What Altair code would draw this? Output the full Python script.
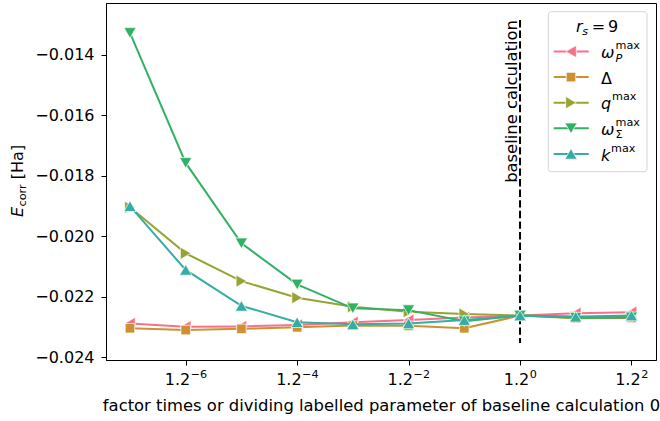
import altair as alt
import pandas as pd

# ---------------- data ----------------
exponents = [-7, -6, -5, -4, -3, -2, -1, 0, 1, 2]          # factor = 1.2**exponent
omega_P = [-0.02288, -0.02299, -0.02298, -0.02293, -0.02284, -0.02277, -0.02268, -0.02262, -0.02254, -0.02251]
delta = [-0.02304, -0.02310, -0.02306, -0.02301, -0.02295, -0.02296, -0.02304, -0.02262, -0.02271, -0.02270]
q_max = [-0.01904, -0.02056, -0.02148, -0.02203, -0.02233, -0.02249, -0.02257, -0.02262, -0.02266, -0.02265]
omega_S = [-0.01327, -0.01757, -0.02023, -0.02159, -0.02238, -0.02244, -0.02281, -0.02262, -0.02269, -0.02268]
k_max = [-0.01900, -0.02111, -0.02230, -0.02284, -0.02291, -0.02288, -0.02277, -0.02262, -0.02266, -0.02262]

series_names = ["omega_P", "Delta", "q", "omega_Sigma", "k"]
series_values = [omega_P, delta, q_max, omega_S, k_max]

x_tick_exponents = [-6, -4, -2, 0, 2]
x_tick_base = "1.2"
x_tick_sup = ["\u22126", "\u22124", "\u22122", "0", "2"]
y_ticks = [-0.024, -0.022, -0.020, -0.018, -0.016, -0.014]

baseline_factor = [1.0]
baseline_span = [-0.012842, -0.023527]
baseline_text = "baseline calculation"
x_title = "factor times or dividing labelled parameter of baseline calculation 0"

legend_main = ["\u03c9", "\u0394", "q", "\u03c9", "k"]
legend_sup = ["max", "", "max", "max", "max"]
legend_sub = ["P", "", "", "\u03a3", ""]

# ---------------- styles ----------------
colors = ["#f77189", "#ce9032", "#97a431", "#32b166", "#36ada4"]
shapes = ["triangle-left", "square", "triangle-right", "triangle-down", "triangle-up"]
sizes = [150, 90, 150, 150, 150]
main_italic = [True, False, True, True, True]
sub_italic = [True, False, False, False, False]
sup_x = [615.5, 0, 612.0, 615.5, 611.0]

OX, OY = 106, 3
W, H = 550, 357
FONT = "DejaVu Sans"
FS = 16
SFS = 11.2

rows = []
for name, vals in zip(series_names, series_values):
    for e, v in zip(exponents, vals):
        rows.append({"series": name, "factor": 1.2 ** e, "E": v})
df = pd.DataFrame(rows)

x_dom = [1.2 ** -7.43, 1.2 ** 2.44]
y_dom = [-0.02409, -0.01228]

axis_common = dict(grid=False, domainColor="black", tickColor="black", labelColor="black",
                   titleColor="black", labelFont=FONT, titleFont=FONT, labelFontSize=FS,
                   tickSize=5, tickWidth=1, domainWidth=1)

x_enc = alt.X(
    "factor:Q",
    scale=alt.Scale(type="log", base=1.2, domain=x_dom, nice=False),
    axis=alt.Axis(values=[1.2 ** e for e in x_tick_exponents], labels=False,
                  title=x_title, titleFontSize=16.4, titleFontWeight="normal",
                  titlePadding=32, **axis_common),
)
y_enc = alt.Y(
    "E:Q",
    scale=alt.Scale(domain=y_dom, nice=False, zero=False),
    axis=alt.Axis(values=y_ticks, labelExpr="replace(format(datum.value, '.3f'), '-', '\u2212')",
                  title=None, labelPadding=7, **axis_common),
)

layers = []

# dashed baseline rule + text
bdf = pd.DataFrame({"factor": baseline_factor, "E": [baseline_span[0]], "E2": [baseline_span[1]]})
layers.append(
    alt.Chart(bdf).mark_rule(color="black", strokeWidth=2, strokeDash=[7.4, 3.2]).encode(
        x=x_enc, y=y_enc, y2=alt.Y2("E2:Q"))
)
layers.append(
    alt.Chart(bdf).mark_text(text=baseline_text, angle=270, align="right", baseline="alphabetic",
                             dy=-3, fontSize=16.4, font=FONT, color="black").encode(x=x_enc, y=y_enc)
)

# data series
for name, col, shp, sz in zip(series_names, colors, shapes, sizes):
    base = alt.Chart(df).transform_filter(alt.datum.series == name)
    layers.append(base.mark_line(color=col, strokeWidth=2).encode(x=x_enc, y=y_enc))
    layers.append(base.mark_point(shape=shp, filled=True, fill=col, stroke="white", strokeWidth=0.7,
                                  size=sz, opacity=1).encode(x=x_enc, y=y_enc))

# x tick labels 1.2^e with real superscripts, positioned through the x scale
ADV = {"1": 0.636, "2": 0.636, "4": 0.636, "6": 0.636, "0": 0.636, ".": 0.318, "\u2212": 0.838}
base_w = sum(ADV[ch] for ch in x_tick_base) * FS
for e, sup in zip(x_tick_exponents, x_tick_sup):
    sup_w = sum(ADV[ch] for ch in sup) * SFS
    off = (base_w + sup_w) / 2 - sup_w
    tdf = pd.DataFrame({"factor": [1.2 ** e]})
    layers.append(alt.Chart(tdf).mark_text(text=x_tick_base, align="right", baseline="alphabetic",
                                           dx=off, fontSize=FS, font=FONT, color="black").encode(
        x=x_enc, y=alt.value(385 - OY)))
    layers.append(alt.Chart(tdf).mark_text(text=sup, align="left", baseline="alphabetic",
                                           dx=off + 0.5, fontSize=SFS, font=FONT, color="black").encode(
        x=x_enc, y=alt.value(377.5 - OY)))

one = pd.DataFrame({"d": [0]})


def txt(xa, ya, s, size=FS, italic=False, angle=0, align="left"):
    props = dict(text=s, fontSize=size, angle=angle, align=align, baseline="alphabetic",
                 color="black", font=FONT)
    if italic:
        props["fontStyle"] = "italic"
    return alt.Chart(one).mark_text(**props).encode(x=alt.value(xa - OX), y=alt.value(ya - OY))


# y-axis title  E_corr [Ha]
layers.append(txt(22.5, 217, "E", FS, True, 270))
layers.append(txt(25.5, 206.5, "corr", SFS, False, 270))
layers.append(txt(22.5, 179.2, "[Ha]", FS, False, 270))

# legend box
layers.append(
    alt.Chart(one).mark_rect(fill="white", fillOpacity=0.8, stroke="#d4d4d4", strokeWidth=1,
                             cornerRadius=3).encode(
        x=alt.value(548.3 - OX), x2=alt.value(647 - OX), y=alt.value(11.7 - OY), y2=alt.value(171.7 - OY))
)
# legend title  r_s = 9
layers.append(txt(576, 31.5, "r", FS, True))
layers.append(txt(582.3, 34.5, "s", SFS, True))
layers.append(txt(591.7, 31.5, "=", FS))
layers.append(txt(608, 31.5, "9", FS))

for i in range(len(series_names)):
    c = 51.5 + 25.6 * i
    layers.append(
        alt.Chart(one).mark_rule(color=colors[i], strokeWidth=2).encode(
            x=alt.value(553.7 - OX), x2=alt.value(588.7 - OX), y=alt.value(c - OY))
    )
    layers.append(
        alt.Chart(one).mark_point(shape=shapes[i], filled=True, fill=colors[i], stroke="white",
                                  strokeWidth=0.7, size=sizes[i], opacity=1).encode(
            x=alt.value(571 - OX), y=alt.value(c - OY))
    )
    layers.append(txt(601, c + 6.6, legend_main[i], FS, main_italic[i]))
    if legend_sup[i]:
        layers.append(txt(sup_x[i], c - 2.4, legend_sup[i], SFS))
    if legend_sub[i]:
        layers.append(txt(sup_x[i], c + 10, legend_sub[i], SFS, sub_italic[i]))

chart = alt.layer(*layers).properties(
    width=W, height=H,
    autosize=alt.AutoSizeParams(type="none"),
    padding={"left": OX, "top": OY, "right": 660 - OX - W, "bottom": 421 - OY - H},
).configure_view(stroke="black", strokeWidth=1).configure_axis(
    grid=False, domainColor="black", tickColor="black", labelColor="black", titleColor="black",
    labelFont=FONT, titleFont=FONT, labelFontSize=FS, tickSize=5, tickWidth=1, domainWidth=1,
)

chart.save("out.html", embed_options={"renderer": "svg", "actions": False})
